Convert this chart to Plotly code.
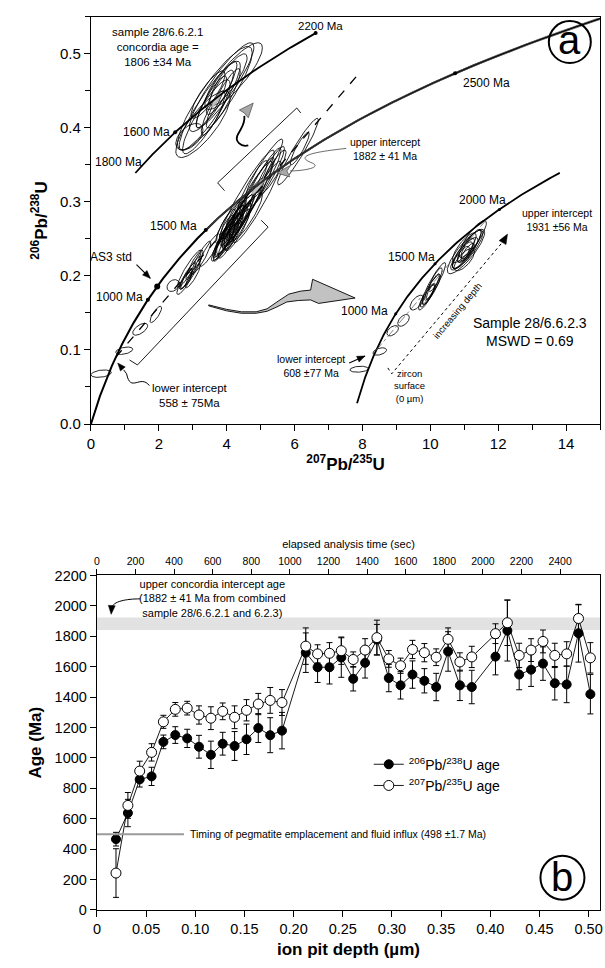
import numpy as np
import plotly.graph_objects as go

FONT = "Liberation Sans, Arial, Helvetica, sans-serif"
LAM238 = 1.55125e-10
LAM235 = 9.8485e-10

# ---------------- panel (a) data : spot ellipses (centre, sigma x, sigma y, rho) -------------
main_cx = [0.30, 0.98, 1.45, 1.91, 2.42, 2.75, 2.80, 2.85, 2.90, 2.95, 3.00, 3.05, 3.25, 3.50,
           3.85, 3.90, 3.95, 4.00, 4.00, 4.05, 4.10, 4.12, 4.15, 4.20, 4.25, 4.28, 4.30, 4.35,
           4.40, 4.45, 4.55, 4.60, 4.60, 4.70, 4.75, 4.85, 4.90, 5.00, 5.10, 5.20, 5.35, 6.10, 6.15,
           4.05, 4.18, 4.32, 3.98, 4.22]
main_cy = [0.068, 0.099, 0.128, 0.148, 0.187, 0.190, 0.196, 0.200, 0.210, 0.205, 0.200, 0.215, 0.225, 0.235,
           0.240, 0.246, 0.250, 0.255, 0.264, 0.272, 0.262, 0.258, 0.268, 0.262, 0.270, 0.284, 0.265, 0.278,
           0.275, 0.283, 0.290, 0.280, 0.310, 0.305, 0.320, 0.315, 0.300, 0.325, 0.345, 0.335, 0.340, 0.368, 0.372,
           0.248, 0.255, 0.262, 0.268, 0.276]
main_sx = [0.30, 0.25, 0.22, 0.17, 0.18, 0.22, 0.18, 0.25, 0.35, 0.30, 0.22, 0.25, 0.28, 0.30,
           0.25, 0.35, 0.30, 0.40, 0.22, 0.38, 0.45, 0.50, 0.35, 0.28, 0.55, 0.30, 0.42, 0.50,
           0.32, 0.60, 0.55, 0.45, 0.80, 0.65, 0.45, 0.55, 0.70, 0.60, 0.55, 0.50, 0.40, 0.60, 0.28,
           0.30, 0.25, 0.36, 0.28, 0.33]
main_sy = [0.005, 0.005, 0.008, 0.011, 0.008, 0.015, 0.014, 0.018, 0.025, 0.022, 0.016, 0.020, 0.022, 0.022,
           0.020, 0.026, 0.024, 0.030, 0.018, 0.028, 0.034, 0.036, 0.027, 0.022, 0.040, 0.022, 0.030, 0.038,
           0.024, 0.045, 0.042, 0.032, 0.060, 0.050, 0.036, 0.045, 0.055, 0.048, 0.040, 0.040, 0.030, 0.045, 0.022,
           0.024, 0.020, 0.028, 0.022, 0.026]
main_rho = [0.30, 0.40, 0.60, 0.80, 0.30, 0.85, 0.85, 0.90, 0.93, 0.92, 0.88, 0.90, 0.90, 0.88,
            0.85, 0.90, 0.88, 0.90, 0.80, 0.90, 0.92, 0.93, 0.90, 0.85, 0.93, 0.85, 0.90, 0.92,
            0.88, 0.94, 0.93, 0.90, 0.95, 0.94, 0.92, 0.93, 0.95, 0.94, 0.94, 0.93, 0.90, 0.95, 0.90,
            0.88, 0.85, 0.90, 0.86, 0.88]

ul_cx = [2.90, 3.30, 3.40, 3.45, 3.50, 3.55, 3.60, 3.65, 3.70, 3.80, 3.85, 3.90, 4.05, 4.20]
ul_cy = [0.388, 0.405, 0.415, 0.445, 0.430, 0.435, 0.420, 0.440, 0.445, 0.448, 0.455, 0.440, 0.465, 0.470]
ul_sx = [0.40, 0.80, 0.70, 0.50, 0.90, 0.45, 0.35, 1.10, 0.60, 0.40, 0.95, 0.50, 0.55, 0.85]
ul_sy = [0.018, 0.045, 0.050, 0.032, 0.060, 0.035, 0.030, 0.070, 0.045, 0.030, 0.060, 0.040, 0.035, 0.045]
ul_rho = [0.50, 0.80, 0.88, 0.85, 0.90, 0.88, 0.85, 0.88, 0.90, 0.85, 0.90, 0.90, 0.85, 0.85]

ins_cx = [7.90, 8.51, 8.89, 9.21, 9.60, 10.00, 10.05, 9.95, 10.10, 9.90, 10.15, 10.00,
          11.05, 11.10, 11.00, 11.15, 10.95, 11.05, 11.20, 10.90, 11.10, 11.00, 11.25, 11.00]
ins_cy = [0.074, 0.098, 0.126, 0.140, 0.164, 0.180, 0.185, 0.175, 0.190, 0.172, 0.195, 0.178,
          0.233, 0.236, 0.230, 0.240, 0.228, 0.235, 0.243, 0.225, 0.232, 0.238, 0.250, 0.222]
ins_sx = [0.27, 0.20, 0.17, 0.17, 0.20, 0.30, 0.22, 0.18, 0.35, 0.25, 0.20, 0.12,
          0.55, 0.45, 0.40, 0.35, 0.30, 0.25, 0.30, 0.25, 0.20, 0.35, 0.40, 0.30]
ins_sy = [0.004, 0.005, 0.007, 0.008, 0.010, 0.022, 0.018, 0.014, 0.028, 0.018, 0.016, 0.010,
          0.030, 0.026, 0.022, 0.022, 0.018, 0.016, 0.020, 0.015, 0.012, 0.020, 0.025, 0.015]
ins_rho = [0.20, 0.40, 0.50, 0.50, 0.60, 0.90, 0.90, 0.85, 0.92, 0.88, 0.85, 0.80,
           0.85, 0.85, 0.85, 0.85, 0.80, 0.80, 0.85, 0.80, 0.80, 0.80, 0.85, 0.70]

mean_cx = [4.93, 3.70]
mean_cy = [0.321, 0.438]
mean_sx = [0.19, 0.15]
mean_sy = [0.011, 0.010]
mean_rho = [0.90, 0.90]

main_dot_ages = [1000, 1500, 2500]
as3_age = [1099]
lower_int_age = 558
upper_int_age = 1882
ins_lower_age = 608
ins_upper_age = 1931
ul_dot_ages = [1600, 2200]
ins_dot_ages = [1000, 1500, 2000]

# ---------------- panel (b) data ----------------
depth = [0.0194, 0.0315, 0.0435, 0.0556, 0.0676, 0.0797, 0.0918, 0.1038, 0.1159, 0.1279,
         0.1400, 0.1521, 0.1641, 0.1762, 0.1882,
         0.2124, 0.2244, 0.2365, 0.2485, 0.2606, 0.2727, 0.2847, 0.2968, 0.3088, 0.3209,
         0.3330, 0.3450, 0.3571, 0.3691, 0.3812,
         0.4053, 0.4174, 0.4294, 0.4415, 0.4536, 0.4656, 0.4777, 0.4897, 0.5018]
age206 = [465, 637, 858, 878, 1105, 1150, 1128, 1073, 1020, 1093, 1078, 1122, 1196, 1149, 1179,
          1692, 1596, 1596, 1660, 1520, 1625, 1778, 1525, 1477, 1548, 1507, 1466, 1700, 1477, 1466,
          1666, 1837, 1548, 1580, 1620, 1491, 1483, 1820, 1419]
err206 = [45, 90, 50, 60, 45, 55, 60, 75, 90, 75, 95, 100, 95, 115, 120,
          130, 100, 110, 130, 80, 100, 100, 90, 90, 90, 80, 90, 130, 100, 110,
          120, 200, 100, 110, 110, 110, 120, 190, 130]
age207 = [242, 687, 913, 1036, 1237, 1319, 1327, 1282, 1261, 1306, 1267, 1313, 1354, 1378, 1364,
          1735, 1684, 1688, 1705, 1647, 1709, 1791, 1651, 1606, 1713, 1692, 1662, 1780, 1631, 1664,
          1817, 1889, 1674, 1709, 1766, 1674, 1684, 1917, 1658]
err207 = [160, 85, 65, 57, 43, 45, 45, 60, 75, 55, 75, 70, 70, 85, 85,
          120, 60, 70, 90, 50, 75, 115, 55, 50, 60, 60, 55, 75, 60, 70,
          65, 150, 80, 75, 75, 80, 80, 90, 100]
time_ticks = [0, 200, 400, 600, 800, 1000, 1200, 1400, 1600, 1800, 2000, 2200, 2400]
depth_ticks = [0, 0.05, 0.10, 0.15, 0.20, 0.25, 0.30, 0.35, 0.40, 0.45, 0.50]
depth_labels = ["0", "0.05", "0.10", "0.15", "0.20", "0.25", "0.30", "0.35", "0.40", "0.45", "0.50"]
age_ticks = [0, 200, 400, 600, 800, 1000, 1200, 1400, 1600, 1800, 2000, 2200]
ratio_ticks = [0.0, 0.1, 0.2, 0.3, 0.4, 0.5]
ratio_labels = ["0.0", "0.1", "0.2", "0.3", "0.4", "0.5"]
pb207_ticks = [0, 2, 4, 6, 8, 10, 12, 14]
intercept_age = 1882
intercept_err = 41
pegmatite_age = 498

# ---------------- geometry of the two panels ----------------
W, H = 605, 968
XA_DOM, YA_DOM = [0.14545, 0.99669], [0.56302, 0.99070]
XB_DOM, YB_DOM = [0.15537, 0.99669], [0.05269, 0.40393]
XA_RNG, YA_RNG = [0, 15], [0, 0.55]
XB_RNG, YB_RNG = [0, 0.5116], [0, 2200]
T_RNG = [0, 2607]
PXA = ((XA_DOM[1] - XA_DOM[0]) * W / (XA_RNG[1] - XA_RNG[0]), (YA_DOM[1] - YA_DOM[0]) * H / (YA_RNG[1] - YA_RNG[0]))
PXB = ((XB_DOM[1] - XB_DOM[0]) * W / (XB_RNG[1] - XB_RNG[0]), (YB_DOM[1] - YB_DOM[0]) * H / (YB_RNG[1] - YB_RNG[0]))

# ---------------- helpers ----------------
def conc(t_ma):
    t = np.asarray(t_ma, dtype=float) * 1e6
    return np.exp(LAM235 * t) - 1, np.exp(LAM238 * t) - 1

def ellipses(cx, cy, sx, sy, rho, n=64):
    th = np.linspace(0, 2 * np.pi, n)
    X, Y = [], []
    for a, b, c, d, r in zip(cx, cy, sx, sy, rho):
        X += list(a + c * np.cos(th)) + [None]
        Y += list(b + d * (r * np.cos(th) + np.sqrt(1 - r * r) * np.sin(th))) + [None]
    return X, Y

UL = dict(x0=-1.596, kx=1.063, y0=0.092, ky=1.072)
INS = dict(x0=7.84, kx=0.68, y0=0.028, ky=0.72)

def tr(xy, p):
    return p["x0"] + p["kx"] * np.asarray(xy[0]), p["y0"] + p["ky"] * np.asarray(xy[1])

def head(xt, yt, xf, yf, px, L=8.0, hw=3.2):
    """filled arrow head (path) with tip at (xt, yt) pointing away from (xf, yf)"""
    dxp, dyp = (xt - xf) * px[0], (yt - yf) * px[1]
    n = np.hypot(dxp, dyp)
    ux, uy = dxp / n, dyp / n
    bx, by = -ux * L, -uy * L
    p1 = (xt + (bx - uy * hw) / px[0], yt + (by + ux * hw) / px[1])
    p2 = (xt + (bx + uy * hw) / px[0], yt + (by - ux * hw) / px[1])
    return "M %.5f,%.5f L %.5f,%.5f L %.5f,%.5f Z" % (xt, yt, p1[0], p1[1], p2[0], p2[1])

fig = go.Figure()
LK = dict(color="black", width=0.85)

for cx, cy, sx, sy, rho in [(main_cx, main_cy, main_sx, main_sy, main_rho),
                            (ul_cx, ul_cy, ul_sx, ul_sy, ul_rho),
                            (ins_cx, ins_cy, ins_sx, ins_sy, ins_rho)]:
    ex, ey = ellipses(cx, cy, sx, sy, rho)
    fig.add_trace(go.Scatter(x=ex, y=ey, mode="lines", line=LK, showlegend=False,
                             hoverinfo="skip", xaxis="x", yaxis="y"))
for i in range(len(mean_cx)):
    ex, ey = ellipses([mean_cx[i]], [mean_cy[i]], [mean_sx[i]], [mean_sy[i]], [mean_rho[i]])
    fig.add_trace(go.Scatter(x=ex[:-1], y=ey[:-1], mode="lines", fill="toself",
                             fillcolor="#c4c4c4", line=dict(color="#8a8a8a", width=0.6),
                             showlegend=False, hoverinfo="skip", xaxis="x", yaxis="y"))

lx, ly = conc([lower_int_age])
ux, uy = conc([upper_int_age])
slope = (uy[0] - ly[0]) / (ux[0] - lx[0])
dx_end = 7.84
fig.add_trace(go.Scatter(x=[lx[0], dx_end], y=[ly[0], ly[0] + slope * (dx_end - lx[0])],
                         mode="lines", line=dict(color="black", width=1.3, dash="dash"),
                         showlegend=False, hoverinfo="skip", xaxis="x", yaxis="y"))

tmax = np.log(16.0) / LAM235 / 1e6
tt = np.linspace(0, tmax, 400)
cx_, cy_ = conc(tt)
fig.add_trace(go.Scatter(x=cx_, y=cy_, mode="lines", line=dict(color="black", width=2),
                         showlegend=False, hoverinfo="skip", xaxis="x", yaxis="y"))
te = np.linspace(1500, tmax, 200) * 1e6
for f in (0.998, 1.002):
    fig.add_trace(go.Scatter(x=np.exp(LAM235 * f * te) - 1, y=np.exp(LAM238 * te) - 1, mode="lines",
                             line=dict(color="#555", width=0.7), showlegend=False,
                             hoverinfo="skip", xaxis="x", yaxis="y"))
dx, dy = conc(main_dot_ages)
fig.add_trace(go.Scatter(x=dx, y=dy, mode="markers", marker=dict(color="black", size=4),
                         showlegend=False, hoverinfo="skip", xaxis="x", yaxis="y"))
ax_, ay_ = conc(as3_age)
fig.add_trace(go.Scatter(x=ax_, y=ay_, mode="markers", marker=dict(color="black", size=6),
                         showlegend=False, hoverinfo="skip", xaxis="x", yaxis="y"))

ulx, uly = tr(conc(np.linspace(1337, 2200, 120)), UL)
fig.add_trace(go.Scatter(x=ulx, y=uly, mode="lines", line=dict(color="black", width=1.8),
                         showlegend=False, hoverinfo="skip", xaxis="x", yaxis="y"))
udx, udy = tr(conc(ul_dot_ages), UL)
fig.add_trace(go.Scatter(x=udx, y=udy, mode="markers", marker=dict(color="black", size=4),
                         showlegend=False, hoverinfo="skip", xaxis="x", yaxis="y"))

ix, iy = tr(conc(np.linspace(0, 2316, 200)), INS)
fig.add_trace(go.Scatter(x=ix, y=iy, mode="lines", line=dict(color="black", width=1.8),
                         showlegend=False, hoverinfo="skip", xaxis="x", yaxis="y"))
idx, idy = tr(conc([ins_lower_age, ins_upper_age]), INS)
fig.add_trace(go.Scatter(x=idx, y=idy, mode="lines", line=dict(color="#666", width=0.8, dash="dashdot"),
                         showlegend=False, hoverinfo="skip", xaxis="x", yaxis="y"))
ddx, ddy = tr(conc(ins_dot_ages), INS)
fig.add_trace(go.Scatter(x=ddx, y=ddy, mode="markers", marker=dict(color="black", size=3),
                         showlegend=False, hoverinfo="skip", xaxis="x", yaxis="y"))

# ---------------- panel (b) traces ----------------
fig.add_trace(go.Scatter(x=depth, y=age206, mode="lines+markers",
                         name="<sup>206</sup>Pb/<sup>238</sup>U age",
                         line=dict(color="black", width=0.9),
                         marker=dict(symbol="circle", size=9, color="black", line=dict(color="black", width=1)),
                         error_y=dict(type="data", array=err206, color="black", thickness=1, width=3),
                         xaxis="x2", yaxis="y2"))
fig.add_trace(go.Scatter(x=depth, y=age207, mode="lines+markers",
                         name="<sup>207</sup>Pb/<sup>235</sup>U age",
                         line=dict(color="black", width=0.9),
                         marker=dict(symbol="circle", size=10, color="white", line=dict(color="black", width=1)),
                         error_y=dict(type="data", array=err207, color="black", thickness=1, width=3),
                         xaxis="x2", yaxis="y2"))
fig.add_trace(go.Scatter(x=time_ticks, y=[None] * len(time_ticks), mode="markers",
                         showlegend=False, hoverinfo="skip", xaxis="x3", yaxis="y2"))

# ---------------- annotations (text only) ----------------
def txt(x, y, s, size=12, xa="center", ref=("x", "y"), angle=0):
    return dict(x=x, y=y, text=s, xref=ref[0], yref=ref[1], showarrow=False, xanchor=xa,
                yanchor="middle", textangle=angle, font=dict(size=size, color="black", family=FONT))

B = ("x2", "y2")
ann = [
    txt(1.95, 0.509, "sample 28/6.6.2.1<br>concordia age =<br>1806 ±34 Ma", 11.5),
    txt(6.03, 0.537, "2200 Ma", 11.5, "left"),
    txt(2.39, 0.394, "1600 Ma", 12, "right"),
    txt(1.57, 0.354, "1800 Ma", 12, "right"),
    txt(3.18, 0.267, "1500 Ma", 12, "right"),
    txt(1.60, 0.172, "1000 Ma", 12, "right"),
    txt(1.28, 0.226, "AS3 std", 12, "right"),
    txt(10.90, 0.461, "2500 Ma", 12, "left"),
    txt(8.66, 0.372, "upper intercept<br>1882 ± 41 Ma", 10.5),
    txt(2.92, 0.038, "lower intercept<br>558 ± 75Ma", 11.5),
    txt(8.80, 0.152, "1000 Ma", 12, "right"),
    txt(10.20, 0.226, "1500 Ma", 12, "right"),
    txt(12.30, 0.303, "2000 Ma", 12, "right"),
    txt(13.72, 0.275, "upper intercept<br>1931 ±56 Ma", 10.5),
    txt(6.47, 0.0785, "lower intercept<br>608 ±77 Ma", 10.5),
    txt(12.94, 0.124, "Sample 28/6.6.2.3<br>MSWD = 0.69", 14),
    txt(10.79, 0.154, "increasing depth", 9.5, angle=-50),
    txt(9.39, 0.052, "zircon<br>surface<br>(0 µm)", 9.5),
    txt(14.11, 0.519, "a", 40),
    txt(0.1176, 2046, "upper concordia intercept age<br>(1882 ± 41 Ma from combined<br>sample 28/6.6.2.1 and 6.2.3)", 11, ref=B),
    txt(0.0924, pegmatite_age, "Timing of pegmatite emplacement and fluid influx (498 ±1.7 Ma)", 10.5, "left", ref=B),
    txt(0.4734, 213, "b", 40, ref=B),
]

def path(d, ref=("x", "y"), color="black", w=1, dash="solid", fill=None):
    s = dict(type="path", path=d, xref=ref[0], yref=ref[1], line=dict(color=color, width=w, dash=dash))
    if fill:
        s["fillcolor"] = fill
    return s

def seg(x0, y0, x1, y1, ref=("x", "y"), color="black", w=1, dash="solid"):
    return dict(type="line", x0=x0, y0=y0, x1=x1, y1=y1, xref=ref[0], yref=ref[1],
                line=dict(color=color, width=w, dash=dash))

shapes = [
    # brackets around the 6.6.2.1 / 6.2.3 data array
    path("M 1.137,0.0864 L 1.370,0.0798 L 5.219,0.2660 L 5.015,0.2753", w=0.9),
    path("M 3.936,0.3152 L 3.732,0.3258 L 6.064,0.4269 L 6.181,0.4202", w=0.9),
    # lower intercept leader + head
    path("M 1.720,0.0519 C 1.458,0.0678 1.166,0.0412 1.050,0.0678 L 0.962,0.0731", w=1),
    path(head(0.787, 0.0824, 0.962, 0.0731, PXA), w=0.5, fill="black"),
    # AS3 arrow
    seg(1.341, 0.2154, 1.749, 0.1968, w=1.1),
    path(head(1.749, 0.1968, 1.341, 0.2154, PXA), w=0.5, fill="black"),
    # 608 arrow
    seg(7.609, 0.0824, 8.076, 0.0918, w=1.1),
    path(head(8.076, 0.0918, 7.609, 0.0824, PXA), w=0.5, fill="black"),
    # upper intercept leader + grey head
    path("M 7.522,0.3723 C 6.764,0.3684 5.889,0.3630 6.531,0.3524 C 6.822,0.3457 6.181,0.3418 5.860,0.3418",
         color="#444", w=0.8),
    path("M 5.481,0.3391 L 5.889,0.3497 L 5.773,0.3418 L 5.860,0.3338 Z", color="#555", w=0.8, fill="#a8a8a8"),
    # curly grey arrow
    path("M 4.636,0.3763 C 4.431,0.3737 4.198,0.3816 4.344,0.3923 C 4.431,0.4003 4.548,0.4056 4.519,0.4162", w=1.8),
    path("M 4.781,0.4335 L 4.373,0.4242 L 4.519,0.4202 L 4.636,0.4136 Z", color="#555", w=0.8, fill="#a8a8a8"),
    # big grey swoosh arrow
    path("M 3.469,0.1609 L 3.994,0.1549 L 4.431,0.1516 L 4.869,0.1516 L 5.190,0.1556 L 5.481,0.1649 "
         "L 5.831,0.1755 L 6.181,0.1795 L 6.472,0.1809 L 6.531,0.1955 L 7.784,0.1702 L 6.706,0.1629 "
         "L 6.472,0.1676 L 6.122,0.1669 L 5.773,0.1649 L 5.481,0.1582 L 5.190,0.1523 L 4.869,0.1496 "
         "L 4.431,0.1496 L 3.994,0.1529 L 3.469,0.1596 Z", w=0.9, fill="#c2c2c2"),
    # increasing depth dotted arrow
    path("M 8.746,0.0758 L 8.863,0.0678 L 12.157,0.2473", w=1, dash="dot"),
    path(head(12.274, 0.2566, 12.157, 0.2473, PXA, L=10, hw=4), w=0.5, fill="black"),
    dict(type="circle", xref="x", yref="y", xsizemode="pixel", ysizemode="pixel",
         xanchor=14.11, yanchor=0.516, x0=-21, x1=21, y0=-21, y1=21, line=dict(color="black", width=2)),
    # panel (b)
    dict(type="rect", xref="x2 domain", yref="y2", x0=0, x1=1,
         y0=intercept_age - intercept_err, y1=intercept_age + intercept_err,
         fillcolor="#e2e2e2", line=dict(width=0), layer="below"),
    dict(type="line", xref="x2", yref="y2", x0=0, x1=0.0885, y0=pegmatite_age, y1=pegmatite_age,
         line=dict(color="#9a9a9a", width=2)),
    path("M 0.0439,2046 C 0.030,2046 0.016,2030 0.015,1985", ref=B, w=1),
    path(head(0.0145, 1944, 0.015, 1990, PXB, L=9, hw=3.5), ref=B, w=0.5, fill="black"),
    dict(type="circle", xref="x2", yref="y2", xsizemode="pixel", ysizemode="pixel",
         xanchor=0.4734, yanchor=211, x0=-22, x1=22, y0=-22, y1=22, line=dict(color="black", width=2)),
]

AX = dict(showline=True, linecolor="black", linewidth=1.3, ticks="outside", ticklen=6, tickwidth=1.2,
          tickcolor="black", showgrid=False, zeroline=False, ticklabeloverflow="allow",
          tickfont=dict(family=FONT, size=15, color="black"))

fig.update_layout(
    width=W, height=H, margin=dict(l=0, r=0, t=0, b=0),
    paper_bgcolor="white", plot_bgcolor="white",
    font=dict(family=FONT, color="black"),
    annotations=ann, shapes=shapes,
    xaxis=dict(AX, domain=XA_DOM, range=XA_RNG, anchor="y", mirror=True,
               tickvals=pb207_ticks,
               minor=dict(dtick=1, ticks="outside", ticklen=5, tickwidth=1.1, tickcolor="black", showgrid=False),
               title=dict(text="<b><sup>207</sup>Pb/<sup>235</sup>U</b>", font=dict(size=17, family=FONT), standoff=0)),
    yaxis=dict(AX, domain=YA_DOM, range=YA_RNG, anchor="x", mirror=True,
               tickvals=ratio_ticks, ticktext=ratio_labels,
               minor=dict(dtick=0.05, ticks="outside", ticklen=5, tickwidth=1.1, tickcolor="black", showgrid=False),
               title=dict(text="<b><sup>206</sup>Pb/<sup>238</sup>U</b>", font=dict(size=17, family=FONT), standoff=8)),
    xaxis2=dict(AX, domain=XB_DOM, range=XB_RNG, anchor="y2",
                tickvals=depth_ticks, ticktext=depth_labels, tickfont=dict(family=FONT, size=14.5, color="black"),
                title=dict(text="<b>ion pit depth (µm)</b>", font=dict(size=17, family=FONT), standoff=6)),
    yaxis2=dict(AX, domain=YB_DOM, range=YB_RNG, anchor="x2", mirror=True,
                tickvals=age_ticks, tickfont=dict(family=FONT, size=14.5, color="black"),
                title=dict(text="<b>Age (Ma)</b>", font=dict(size=17, family=FONT), standoff=8)),
    xaxis3=dict(AX, overlaying="x2", side="top", anchor="y2", range=T_RNG,
                tickvals=time_ticks, ticklen=5, tickfont=dict(family=FONT, size=10.5, color="black"),
                title=dict(text="elapsed analysis time (sec)", font=dict(size=11, family=FONT), standoff=4)),
    legend=dict(x=0.61, y=0.222, xanchor="left", yanchor="top", bgcolor="rgba(0,0,0,0)",
                font=dict(size=14, family=FONT, color="black"), itemwidth=30, tracegroupgap=0),
)

fig.write_html("out.html", config={"displayModeBar": False},
               post_script="document.body.style.margin='0';document.body.style.overflow='hidden';")
